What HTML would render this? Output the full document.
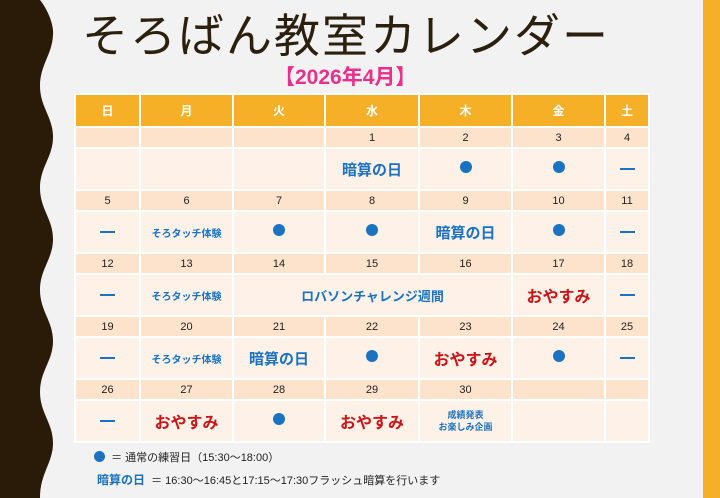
<!DOCTYPE html>
<html><head><meta charset="utf-8"><style>
body{margin:0;width:720px;height:498px;background:#f2f2f2;position:relative;overflow:hidden;font-family:"Liberation Sans","Noto Sans CJK JP",sans-serif}
.a{position:absolute}
table{position:absolute;left:74px;top:93px;border-collapse:collapse;table-layout:fixed}
td{border:2px solid #fff;text-align:center;padding:0}
.h td{background:#f5b027;color:#fff;font-weight:bold;font-size:12px;height:31px}
.n td{background:#fde3cc;height:19px;font-size:11px;color:#222}
.c td{background:#fdf1e8;height:40px;color:#1a72c0;font-weight:bold}
.c .b{font-size:15px}.c .s{font-size:10px}.c .r{color:#cc1418;font-size:16px}
.dot{display:inline-block;width:12px;height:12px;border-radius:50%;background:#1a72c0}
.dash{display:inline-block;width:15px;height:2px;background:#1a72c0;vertical-align:middle}
</style></head><body>
<svg class="a" style="left:0;top:0" width="60" height="498"><path d="M0 0 L40 0 C48 10 54 25 53 35 C52 55 40 65 40 86 C40 107 53 117 53 137 C53 157 40 167 40 188 C40 209 53 219 53 239 C53 259 40 269 40 290 C40 311 53 321 53 341 C53 361 40 371 40 392 C40 413 53 423 53 443 C53 463 40 473 40 498 L0 498Z" fill="#2a1b08"/></svg>
<div class="a" style="left:703px;top:0;width:17px;height:498px;background:#f5b027"></div>
<div class="a" style="left:82px;top:0px;font-size:46px;color:#2b1f0e;letter-spacing:2px;white-space:nowrap">そろばん教室カレンダー</div>
<div class="a" style="left:274px;top:61px;font-size:21px;font-weight:bold;color:#e8308a;white-space:nowrap">【2026年4月】</div>
<table>
<colgroup><col style="width:65px"><col style="width:93px"><col style="width:92px"><col style="width:94px"><col style="width:93px"><col style="width:93px"><col style="width:44px"></colgroup>
<tr class="h"><td>日</td><td>月</td><td>火</td><td>水</td><td>木</td><td>金</td><td>土</td></tr>
<tr class="n"><td></td><td></td><td></td><td>1</td><td>2</td><td>3</td><td>4</td></tr>
<tr class="c"><td></td><td></td><td></td><td class="b">暗算の日</td><td><span class="dot"></span></td><td><span class="dot"></span></td><td><span class="dash"></span></td></tr>
<tr class="n"><td>5</td><td>6</td><td>7</td><td>8</td><td>9</td><td>10</td><td>11</td></tr>
<tr class="c"><td><span class="dash"></span></td><td class="s">そろタッチ体験</td><td><span class="dot"></span></td><td><span class="dot"></span></td><td class="b">暗算の日</td><td><span class="dot"></span></td><td><span class="dash"></span></td></tr>
<tr class="n"><td>12</td><td>13</td><td>14</td><td>15</td><td>16</td><td>17</td><td>18</td></tr>
<tr class="c"><td><span class="dash"></span></td><td class="s">そろタッチ体験</td><td colspan="3" style="font-size:13px">ロバソンチャレンジ週間</td><td class="r">おやすみ</td><td><span class="dash"></span></td></tr>
<tr class="n"><td>19</td><td>20</td><td>21</td><td>22</td><td>23</td><td>24</td><td>25</td></tr>
<tr class="c"><td><span class="dash"></span></td><td class="s">そろタッチ体験</td><td class="b">暗算の日</td><td><span class="dot"></span></td><td class="r">おやすみ</td><td><span class="dot"></span></td><td><span class="dash"></span></td></tr>
<tr class="n"><td>26</td><td>27</td><td>28</td><td>29</td><td>30</td><td></td><td></td></tr>
<tr class="c"><td><span class="dash"></span></td><td class="r">おやすみ</td><td><span class="dot"></span></td><td class="r">おやすみ</td><td style="font-size:9px;line-height:12px">成績発表<br>お楽しみ企画</td><td></td><td></td></tr>
</table>
<div class="a" style="left:94px;top:449px;font-size:11px;color:#222;white-space:nowrap"><span class="dot" style="width:11px;height:11px;vertical-align:-1px"></span> &nbsp;＝ 通常の練習日（15:30〜18:00）</div>
<div class="a" style="left:97px;top:471px;font-size:11px;color:#222;white-space:nowrap"><b style="color:#1a72c0;font-size:12px">暗算の日</b> &nbsp;＝ 16:30〜16:45と17:15〜17:30フラッシュ暗算を行います</div>
</body></html>
